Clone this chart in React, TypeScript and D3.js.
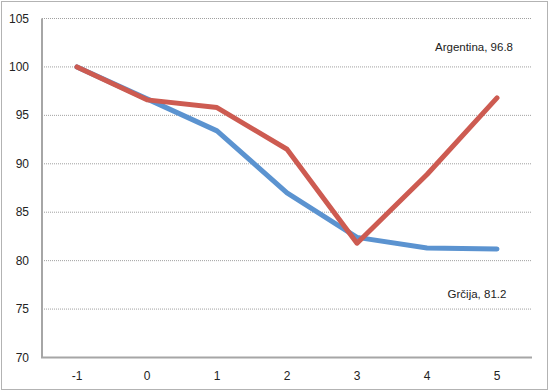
import React, { useRef, useEffect } from 'react';
import * as d3 from 'd3';

const categories = ['-1', '0', '1', '2', '3', '4', '5'];
const greece = [100, 96.7, 93.4, 87.0, 82.4, 81.3, 81.2];
const argentina = [100, 96.6, 95.8, 91.5, 81.8, 88.9, 96.8];
const yTicks = [70, 75, 80, 85, 90, 95, 100, 105];

const WIDTH = 550;
const HEIGHT = 392;

export default function App() {
  const svgRef = useRef<SVGSVGElement>(null);

  useEffect(() => {
    document.body.style.margin = '0';
    const svg = d3.select(svgRef.current);
    svg.selectAll('*').remove();

    const font = 'Liberation Sans, Arial, sans-serif';

    // outer frame
    svg.append('rect')
      .attr('x', 1.5).attr('y', 1.5)
      .attr('width', WIDTH - 4).attr('height', HEIGHT - 4)
      .attr('fill', 'white')
      .attr('stroke', '#b3b3b3')
      .attr('stroke-width', 1);

    const left = 42, right = 532, top = 18.5, bottom = 357.5;

    const x = d3.scaleBand().domain(categories).range([left, right]);
    const y = d3.scaleLinear().domain([70, 105]).range([bottom, top]);

    // gridlines
    svg.append('g').selectAll('line')
      .data(yTicks.filter(t => t > 70))
      .enter()
      .append('line')
      .attr('x1', left).attr('x2', right)
      .attr('y1', d => y(d)).attr('y2', d => y(d))
      .attr('stroke', '#a0a0a0')
      .attr('stroke-width', 1)
      .attr('stroke-dasharray', '1,1');

    // axes lines
    svg.append('line')
      .attr('x1', left).attr('x2', left)
      .attr('y1', top).attr('y2', bottom)
      .attr('stroke', '#a6a6a6').attr('stroke-width', 2);
    svg.append('line')
      .attr('x1', left - 1).attr('x2', right)
      .attr('y1', bottom).attr('y2', bottom)
      .attr('stroke', '#a6a6a6').attr('stroke-width', 2);

    // y tick labels
    svg.append('g').selectAll('text')
      .data(yTicks)
      .enter()
      .append('text')
      .attr('x', 29)
      .attr('y', d => y(d) + 4)
      .attr('text-anchor', 'end')
      .attr('font-family', font)
      .attr('font-size', '12px')
      .attr('fill', '#222')
      .text(d => d);

    // x tick labels
    svg.append('g').selectAll('text')
      .data(categories)
      .enter()
      .append('text')
      .attr('x', d => (x(d) as number) + x.bandwidth() / 2)
      .attr('y', 380)
      .attr('text-anchor', 'middle')
      .attr('font-family', font)
      .attr('font-size', '12px')
      .attr('fill', '#222')
      .text(d => d);

    const line = d3.line<number>()
      .x((d, i) => (x(categories[i]) as number) + x.bandwidth() / 2)
      .y(d => y(d));

    svg.append('path')
      .datum(greece)
      .attr('d', line)
      .attr('fill', 'none')
      .attr('stroke', '#5b93d0')
      .attr('stroke-width', 5)
      .attr('stroke-linejoin', 'round')
      .attr('stroke-linecap', 'round');

    svg.append('path')
      .datum(argentina)
      .attr('d', line)
      .attr('fill', 'none')
      .attr('stroke', '#cd5b51')
      .attr('stroke-width', 5)
      .attr('stroke-linejoin', 'round')
      .attr('stroke-linecap', 'round');

    // series labels
    svg.append('text')
      .attr('x', 474).attr('y', 51)
      .attr('text-anchor', 'middle')
      .attr('font-family', font)
      .attr('font-size', '11.5px')
      .attr('fill', '#222')
      .text(`Argentina, ${argentina[argentina.length - 1]}`);

    svg.append('text')
      .attr('x', 477).attr('y', 298)
      .attr('text-anchor', 'middle')
      .attr('font-family', font)
      .attr('font-size', '11.5px')
      .attr('fill', '#222')
      .text(`Grčija, ${greece[greece.length - 1]}`);
  }, []);

  return (
    <svg ref={svgRef} width={WIDTH} height={HEIGHT} style={{ display: 'block' }}></svg>
  );
}
